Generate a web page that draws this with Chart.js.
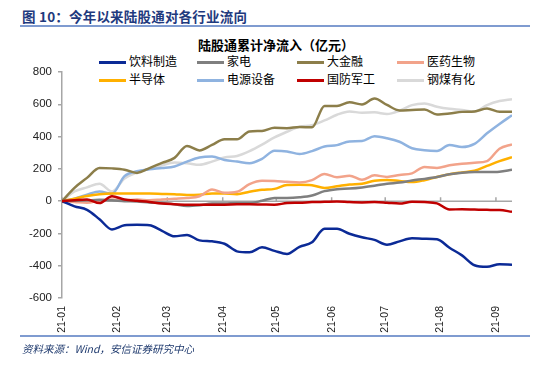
<!DOCTYPE html>
<html>
<head>
<meta charset="utf-8">
<script src="https://cdn.jsdelivr.net/npm/chart.js@4.4.1/dist/chart.umd.min.js"></script>
<style>
  html, body { margin:0; padding:0; background:#fff; }
  body { width:550px; height:369px; position:relative; overflow:hidden;
         font-family: "Liberation Sans", "Noto Sans CJK SC", sans-serif; }
  #c { position:absolute; left:0; top:0; }
  .hdr { position:absolute; left:22px; top:6px; font-family:"Noto Sans CJK SC", sans-serif;
         font-weight:bold; font-size:13.5px; color:#1f3a7e; white-space:nowrap; letter-spacing:0.2px; }
  .hline { position:absolute; left:20px; width:510px; height:2px; background:#7f9bd0; }
  .title { position:absolute; left:0; width:552px; top:35px; text-align:center;
           font-family:"Noto Sans CJK SC", sans-serif; font-weight:bold; font-size:13px; color:#000; }
  .lg { position:absolute; height:14px; font-family:"Noto Sans CJK SC", sans-serif; font-size:12px;
        color:#000; white-space:nowrap; line-height:14px; }
  .lg i { position:absolute; left:0; top:6px; width:27px; height:3px; }
  .lg span { position:absolute; left:30px; top:-1px; }
  .src { position:absolute; left:22px; top:341px; font-family:"Noto Sans CJK SC", sans-serif;
         font-style:italic; font-size:10.5px; color:#1f3a6e; white-space:nowrap; }
</style>
</head>
<body>
<div class="hdr">图 10：今年以来陆股通对各行业流向</div>
<div class="hline" style="top:25px"></div>
<div class="title">陆股通累计净流入（亿元）</div>
<div id="legend"></div>
<canvas id="c" width="550" height="369"></canvas>
<div class="hline" style="top:335px"></div>
<div class="src">资料来源：Wind，安信证券研究中心</div>
<script>
// ---- data ----
const days = [0,7,14,21,28,35,42,49,56,63,70,77,84,91,98,105,112,119,126,133,140,147,154,161,168,175,182,189,196,203,210,217,224,231,238,245,252];
const monthDays = [0,31,59,90,120,151,181,212,243];
const monthLabels = ['21-01','21-02','21-03','21-04','21-05','21-06','21-07','21-08','21-09'];
const yTicks = [-600,-400,-200,0,200,400,600,800];

const seriesNames = ['饮料制造','家电','大金融','医药生物','半导体','电源设备','国防军工','钢煤有化'];
const seriesColors = ['#0b2a96','#7f7f7f','#8c7e4a','#f2a38a','#ffb000','#8fb3e0','#c00000','#d9d9d9'];

const beverage = [0,-32,-54,-112,-175,-150,-147,-150,-184,-218,-209,-243,-249,-264,-311,-317,-286,-308,-327,-283,-255,-171,-171,-202,-224,-240,-270,-249,-230,-233,-236,-289,-336,-397,-407,-391,-394];
const appliance = [0,2,5,8,5,0,-2,-8,-12,-20,-30,-25,-15,-15,-12,-12,2,20,20,24,35,62,74,78,85,95,108,115,128,138,150,166,176,180,180,182,194];
const finance = [0,82,144,206,203,195,175,205,237,268,342,314,348,383,383,432,435,454,452,460,457,590,590,612,599,636,596,562,565,568,537,543,553,556,574,553,553];
const pharma = [0,-5,-10,5,10,5,10,5,10,15,20,30,72,52,58,105,126,125,120,116,130,168,148,158,132,160,150,162,172,212,206,222,232,238,248,325,352];
const semi = [0,15,32,43,47,47,47,47,45,43,38,40,48,47,43,58,70,76,100,101,98,82,92,103,108,126,131,125,118,130,150,167,178,188,218,248,272];
const power = [0,15,40,60,45,155,185,197,205,215,245,270,276,255,245,235,262,312,308,292,310,338,347,370,372,402,390,368,328,315,311,348,335,355,420,478,532];
const defense = [0,6,10,-12,30,10,2,-5,-15,-19,-22,-23,-22,-22,-20,-20,-21,-22,-12,-10,-6,-4,-2,-6,-8,-6,-10,-15,-4,-6,-14,-52,-50,-52,-54,-55,-66];
const steel = [0,60,85,108,60,140,178,200,222,240,235,225,245,270,280,310,350,395,430,460,470,500,535,555,548,550,540,560,595,605,585,572,565,555,595,620,632];

const seriesValues = [beverage, appliance, finance, pharma, semi, power, defense, steel];

// ---- legend (HTML grid, 4 columns x 2 rows) ----
const lgCols = [99, 197, 297, 397];
const lgRows = [55, 73];
const lgEl = document.getElementById('legend');
seriesNames.forEach((n, i) => {
  const d = document.createElement('div');
  d.className = 'lg';
  d.style.left = lgCols[i % 4] + 'px';
  d.style.top = lgRows[Math.floor(i / 4)] + 'px';
  d.innerHTML = '<i style="background:' + seriesColors[i] + '"></i><span>' + n + '</span>';
  lgEl.appendChild(d);
});

// ---- plugin: zero axis line with month tick marks ----
const zeroAxis = {
  id: 'zeroAxis',
  beforeDatasetsDraw(chart) {
    const { ctx, scales: { x, y } } = chart;
    const y0 = y.getPixelForValue(0);
    ctx.save();
    ctx.strokeStyle = '#a6a6a6';
    ctx.lineWidth = 1.5;
    ctx.beginPath();
    ctx.moveTo(x.left, y0);
    ctx.lineTo(x.right, y0);
    monthDays.forEach(v => {
      const px = x.getPixelForValue(v);
      ctx.moveTo(px, y0);
      ctx.lineTo(px, y0 - 4);
    });
    ctx.stroke();
    ctx.restore();
  }
};

const datasets = seriesNames.map((n, i) => ({
  label: n,
  data: days.map((d, k) => ({ x: d, y: seriesValues[i][k] })),
  borderColor: seriesColors[i],
  backgroundColor: seriesColors[i],
  borderWidth: 2.5,
  pointRadius: 0,
  cubicInterpolationMode: 'monotone',
  fill: false,
  order: i === 6 ? 0 : (i === 0 ? 1 : 2 + i)
}));

new Chart(document.getElementById('c'), {
  type: 'line',
  data: { datasets },
  options: {
    responsive: false,
    animation: false,
    devicePixelRatio: 1,
    layout: { padding: { left: 0, top: 72, right: 38, bottom: 33 } },
    plugins: { legend: { display: false }, title: { display: false }, tooltip: { enabled: false } },
    scales: {
      x: {
        type: 'linear',
        min: 0, max: 252,
        offset: false,
        afterBuildTicks: s => { s.ticks = monthDays.map(v => ({ value: v })); },
        afterFit: s => { s.height = 38; },
        grid: { display: false, drawTicks: false },
        border: { display: false },
        ticks: {
          autoSkip: false, maxRotation: 90, minRotation: 90, padding: 8,
          color: '#222', font: { family: 'Liberation Sans', size: 10.5 },
          callback: (v, i) => monthLabels[i]
        }
      },
      y: {
        min: -600, max: 800,
        afterBuildTicks: s => { s.ticks = yTicks.map(v => ({ value: v })); },
        afterFit: s => { s.width = 62; },
        grid: { drawOnChartArea: false, drawTicks: true, tickLength: 4, color: '#a6a6a6', lineWidth: 1.5 },
        border: { display: true, color: '#a6a6a6', width: 1.5 },
        ticks: { padding: 6, color: '#222', font: { family: 'Liberation Sans', size: 11.5 } }
      }
    }
  },
  plugins: [zeroAxis]
});
</script>
</body>
</html>
